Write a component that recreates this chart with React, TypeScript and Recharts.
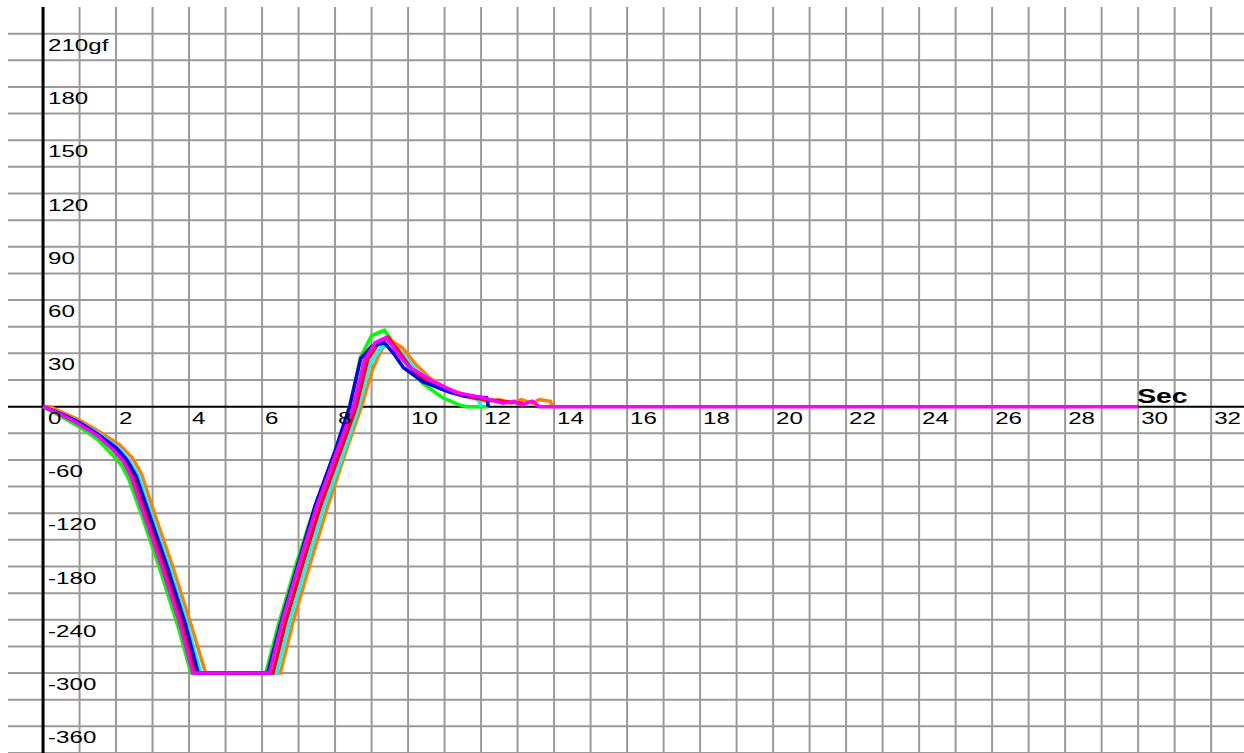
import {
  ComposedChart,
  Line,
  ReferenceLine,
  Scatter,
  XAxis,
  YAxis,
} from "recharts";

type Pt = { t: number; gf: number };

// traces: t in sec, gf in grams-force
const greenTrace: Pt[] = [
  { t: 0, gf: 0 }, { t: 0.5, gf: -11 }, { t: 1.0, gf: -23 }, { t: 1.5, gf: -37 },
  { t: 1.85, gf: -52 }, { t: 2.15, gf: -66 }, { t: 2.35, gf: -82 }, { t: 2.7, gf: -122 },
  { t: 3.2, gf: -183 }, { t: 3.7, gf: -248 }, { t: 4.05, gf: -300 }, { t: 6.1, gf: -300 },
  { t: 6.45, gf: -245 }, { t: 6.95, gf: -175 }, { t: 7.45, gf: -112 }, { t: 8.0, gf: -50 },
  { t: 8.4, gf: 0 }, { t: 8.7, gf: 28 }, { t: 9.0, gf: 40 }, { t: 9.35, gf: 43 },
  { t: 9.7, gf: 33 }, { t: 10.0, gf: 22 }, { t: 10.4, gf: 13 }, { t: 10.95, gf: 5 },
  { t: 11.4, gf: 1 }, { t: 11.6, gf: 0 }, { t: 12.2, gf: 0 },
];

const orangeTrace: Pt[] = [
  { t: 0, gf: 0 }, { t: 0.2, gf: 0 }, { t: 0.5, gf: -6 }, { t: 1.0, gf: -15 },
  { t: 1.5, gf: -27 }, { t: 2.1, gf: -43 }, { t: 2.45, gf: -58 }, { t: 2.7, gf: -76 },
  { t: 3.05, gf: -120 }, { t: 3.55, gf: -180 }, { t: 4.05, gf: -245 }, { t: 4.45, gf: -300 },
  { t: 6.5, gf: -300 }, { t: 6.85, gf: -242 }, { t: 7.35, gf: -172 }, { t: 7.8, gf: -112 },
  { t: 8.3, gf: -50 }, { t: 8.72, gf: 0 }, { t: 9.04, gf: 22 }, { t: 9.3, gf: 33 },
  { t: 9.55, gf: 37 }, { t: 9.85, gf: 33 }, { t: 10.2, gf: 24 }, { t: 10.6, gf: 16 },
  { t: 11.0, gf: 11 }, { t: 11.5, gf: 7 }, { t: 11.9, gf: 4 }, { t: 12.2, gf: 3 },
  { t: 12.5, gf: 4 }, { t: 12.8, gf: 2 }, { t: 13.1, gf: 4 }, { t: 13.4, gf: 2 },
  { t: 13.6, gf: 4 }, { t: 13.9, gf: 3 }, { t: 13.95, gf: 0 },
];

const cyanTrace: Pt[] = [
  { t: 0, gf: 0 }, { t: 0.5, gf: -8 }, { t: 1.0, gf: -18 }, { t: 1.5, gf: -30 },
  { t: 2.05, gf: -46 }, { t: 2.35, gf: -60 }, { t: 2.6, gf: -77 }, { t: 2.95, gf: -120 },
  { t: 3.45, gf: -180 }, { t: 3.95, gf: -245 }, { t: 4.32, gf: -300 }, { t: 6.4, gf: -300 },
  { t: 6.75, gf: -242 }, { t: 7.25, gf: -172 }, { t: 7.7, gf: -112 }, { t: 8.25, gf: -50 },
  { t: 8.65, gf: 0 }, { t: 8.95, gf: 24 }, { t: 9.25, gf: 33 }, { t: 9.5, gf: 37 },
  { t: 9.8, gf: 31 }, { t: 10.2, gf: 21 }, { t: 10.8, gf: 12 }, { t: 11.3, gf: 8 },
  { t: 11.9, gf: 5 }, { t: 12.0, gf: 0 },
];

const redTrace: Pt[] = [
  { t: 0, gf: 0 }, { t: 0.5, gf: -9 }, { t: 1.0, gf: -19 }, { t: 1.5, gf: -32 },
  { t: 1.95, gf: -47 }, { t: 2.25, gf: -61 }, { t: 2.45, gf: -77 }, { t: 2.82, gf: -120 },
  { t: 3.32, gf: -180 }, { t: 3.82, gf: -245 }, { t: 4.18, gf: -300 }, { t: 6.3, gf: -300 },
  { t: 6.65, gf: -242 }, { t: 7.15, gf: -172 }, { t: 7.6, gf: -112 }, { t: 8.15, gf: -50 },
  { t: 8.58, gf: 0 }, { t: 8.9, gf: 27 }, { t: 9.2, gf: 36 }, { t: 9.45, gf: 39 },
  { t: 9.75, gf: 31 }, { t: 10.1, gf: 21 }, { t: 10.5, gf: 14 }, { t: 10.9, gf: 10 },
  { t: 11.5, gf: 6 }, { t: 12.1, gf: 4 }, { t: 12.6, gf: 3 }, { t: 13.1, gf: 2 },
  { t: 13.15, gf: 0 },
];

const blueTrace: Pt[] = [
  { t: 0, gf: 0 }, { t: 0.5, gf: -8 }, { t: 1.0, gf: -18 }, { t: 1.5, gf: -31 },
  { t: 2.0, gf: -46 }, { t: 2.3, gf: -60 }, { t: 2.55, gf: -78 }, { t: 2.9, gf: -120 },
  { t: 3.4, gf: -180 }, { t: 3.9, gf: -245 }, { t: 4.25, gf: -300 }, { t: 6.15, gf: -300 },
  { t: 6.5, gf: -245 }, { t: 7.0, gf: -175 }, { t: 7.45, gf: -112 }, { t: 8.0, gf: -50 },
  { t: 8.4, gf: 0 }, { t: 8.7, gf: 27 }, { t: 9.0, gf: 34 }, { t: 9.35, gf: 36 },
  { t: 9.6, gf: 30 }, { t: 9.87, gf: 22 }, { t: 10.4, gf: 14 }, { t: 11.15, gf: 8 },
  { t: 11.6, gf: 6 }, { t: 12.15, gf: 5 }, { t: 12.2, gf: 0 },
];

const magentaTrace: Pt[] = [
  { t: 0, gf: 0 }, { t: 0.5, gf: -9 }, { t: 1.0, gf: -20 }, { t: 1.5, gf: -33 },
  { t: 1.9, gf: -48 }, { t: 2.2, gf: -62 }, { t: 2.4, gf: -78 }, { t: 2.75, gf: -120 },
  { t: 3.25, gf: -180 }, { t: 3.75, gf: -245 }, { t: 4.1, gf: -300 }, { t: 6.2, gf: -300 },
  { t: 6.55, gf: -242 }, { t: 7.05, gf: -172 }, { t: 7.5, gf: -112 }, { t: 8.05, gf: -50 },
  { t: 8.5, gf: 0 }, { t: 8.8, gf: 26 }, { t: 9.1, gf: 36 }, { t: 9.4, gf: 39 },
  { t: 9.75, gf: 29 }, { t: 10.05, gf: 22 }, { t: 10.7, gf: 14 }, { t: 11.3, gf: 8 },
  { t: 12.05, gf: 5 }, { t: 12.6, gf: 2 }, { t: 12.9, gf: 3 }, { t: 13.1, gf: 1 },
  { t: 13.4, gf: 3 }, { t: 13.6, gf: 0 }, { t: 30, gf: 0 },
];

const secGrid = [
  1, 2, 3, 4, 5, 6, 7, 8, 9, 10, 11, 12, 13, 14, 15, 16, 17, 18, 19, 20, 21, 22,
  23, 24, 25, 26, 27, 28, 29, 30, 31, 32,
];
const secLabels = [0, 2, 4, 6, 8, 10, 12, 14, 16, 18, 20, 22, 24, 26, 28, 30, 32];

const gfGrid = [
  210, 195, 180, 165, 150, 135, 120, 105, 90, 75, 60, 45, 30, 15,
  -30, -60, -90, -120, -150, -180, -210, -240, -270, -300, -330, -360, -390,
];
const gfLabels = [210, 180, 150, 120, 90, 60, 30, -60, -120, -180, -240, -300, -360];

// the instrument's axis is split: above zero one grid step is 15 gf, below it is 30 gf
const toAxis = (gf: number) => (gf >= 0 ? gf : gf / 2);
const prep = (trace: Pt[]) => trace.map((d) => ({ t: d.t, p: toAxis(d.gf) }));

const series = [
  { name: "green", color: "#00ff00", data: greenTrace },
  { name: "orange", color: "#ff8000", data: orangeTrace },
  { name: "cyan", color: "#00ffff", data: cyanTrace },
  { name: "red", color: "#ff0000", data: redTrace },
  { name: "blue", color: "#0000ff", data: blueTrace },
  { name: "magenta", color: "#ff00ff", data: magentaTrace },
];

const FONT = "'Liberation Sans', Arial, sans-serif";
const GRID = "#9a9a9a";

const xLabelData = secLabels.map((s) => ({ t: s, p: 0, text: String(s) }));
const yLabelData = gfLabels.map((g, i) => ({
  t: 0,
  p: toAxis(g),
  text: i === 0 ? `${g}gf` : String(g),
}));
const unitData = [{ t: 30, p: 0, text: "Sec" }];

function LabelText(props: any) {
  const { cx, cy, payload, dx, dy, bold } = props;
  if (cx == null || cy == null) return <g />;
  return (
    <text
      x={0}
      y={0}
      transform={`translate(${cx + dx},${cy + dy}) scale(1.42,1)`}
      fontFamily={FONT}
      fontSize={bold ? 20 : 17}
      fontWeight={bold ? 700 : 400}
      fill="#000"
    >
      {payload.text}
    </text>
  );
}

export default function App() {
  return (
    <div
      style={{
        position: "absolute",
        left: 0,
        top: 0,
        width: 1244,
        height: 753,
        overflow: "hidden",
        background: "#fff",
      }}
    >
      <ComposedChart
        width={1244}
        height={753}
        margin={{ top: 7, right: 0, bottom: 0, left: 8 }}
      >
        <XAxis
          dataKey="t"
          type="number"
          domain={[-0.96, 32.9]}
          allowDataOverflow
          ticks={secLabels}
          tick={false}
          tickLine={false}
          axisLine={false}
          height={0}
        />
        <YAxis
          dataKey="p"
          type="number"
          domain={[-195, 225]}
          allowDataOverflow
          tick={false}
          tickLine={false}
          axisLine={false}
          width={0}
        />
        {secGrid.map((s) => (
          <ReferenceLine key={`v${s}`} x={s} stroke={GRID} strokeWidth={2} />
        ))}
        {gfGrid.map((g) => (
          <ReferenceLine key={`h${g}`} y={toAxis(g)} stroke={GRID} strokeWidth={2} />
        ))}
        <ReferenceLine x={0} stroke="#000" strokeWidth={3} />
        <ReferenceLine y={0} stroke="#000" strokeWidth={2} />
        <Scatter
          data={yLabelData}
          dataKey="p"
          isAnimationActive={false}
          shape={(p: any) => <LabelText {...p} dx={5} dy={17} />}
        />
        <Scatter
          data={xLabelData}
          dataKey="p"
          isAnimationActive={false}
          shape={(p: any) => <LabelText {...p} dx={p.payload.t === 0 ? 5 : 3} dy={17} />}
        />
        <Scatter
          data={unitData}
          dataKey="p"
          isAnimationActive={false}
          shape={(p: any) => <LabelText {...p} dx={-1} dy={-4} bold />}
        />
        {series.map((s) => (
          <Line
            key={s.name}
            data={prep(s.data)}
            dataKey="p"
            type="linear"
            stroke={s.color}
            strokeWidth={3.5}
            dot={false}
            activeDot={false}
            isAnimationActive={false}
          />
        ))}
      </ComposedChart>
    </div>
  );
}
